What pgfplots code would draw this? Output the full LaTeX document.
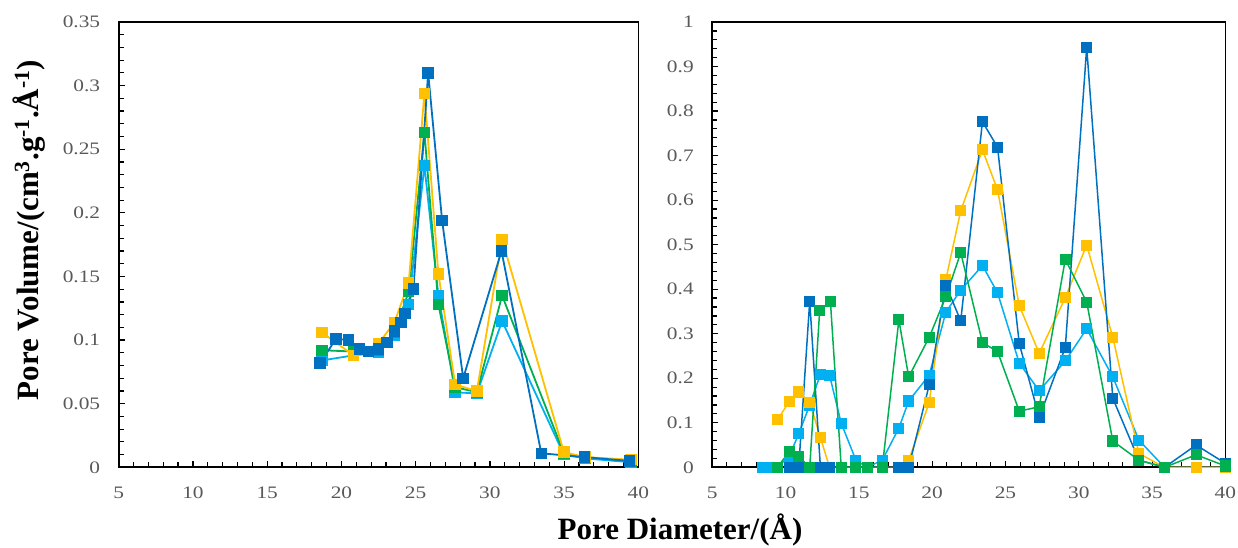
\documentclass[border=0pt]{standalone}
\usepackage{pgfplots}
\pgfplotsset{compat=1.18}
\usepackage{fontspec}
\setmainfont{Liberation Serif}
\newfontfamily\tickfont[FakeStretch=1.22]{Liberation Serif}
\definecolor{cY}{HTML}{FFC000}
\definecolor{cG}{HTML}{00B050}
\definecolor{cL}{HTML}{00B0F0}
\definecolor{cD}{HTML}{0070C0}
\definecolor{tickgray}{HTML}{595959}
\pgfplotsset{
 myaxis/.style={
  scale only axis, height=445.3pt,
  xmin=5,xmax=40, ymin=0,
  xtick={5,10,15,20,25,30,35,40}, minor x tick num=4, minor y tick num=4,
  tick pos=left, tick align=inside,
  major tick length=6pt, minor tick length=5pt,
  every tick/.style={black, line width=1.2pt},
  axis line style={line width=1.8pt},
  tick label style={font=\tickfont\fontsize{17.5}{17.5}\selectfont, text=tickgray},
  /pgf/number format/assume math mode=true,
  yticklabel style={/pgf/number format/fixed, /pgf/number format/precision=2, xshift=-15pt},
  xticklabel style={yshift=-16.5pt},
  every axis plot/.append style={mark=square*, mark options={solid}},
 }
}
\begin{document}
\begin{tikzpicture}[x=1pt,y=1pt]
\path[use as bounding box] (-118.7,-79.7) rectangle (1119.3,467.3);
\begin{axis}[myaxis, width=519.7pt, at={(0pt,0pt)}, anchor=south west, ymax=0.35,
  ytick={0,0.05,0.1,0.15,0.2,0.25,0.3,0.35},
  every axis plot/.append style={line width=1.8pt, mark size=4.8pt}]
\addplot[color=cL, mark options={fill=cL}] coordinates {(18.69,0.084) (20.82,0.088) (22.49,0.090) (23.57,0.104) (24.53,0.128) (25.59,0.237) (26.53,0.135) (27.66,0.059) (29.12,0.058) (30.82,0.115) (34.98,0.010) (36.4,0.007) (39.5,0.004)};
\addplot[color=cG, mark options={fill=cG}] coordinates {(18.69,0.092) (20.82,0.091) (22.49,0.092) (23.57,0.106) (24.53,0.138) (25.59,0.263) (26.53,0.128) (27.66,0.063) (29.12,0.059) (30.82,0.135) (34.98,0.011) (36.4,0.008) (39.5,0.005)};
\addplot[color=cY, mark options={fill=cY}] coordinates {(18.69,0.106) (20.82,0.088) (22.49,0.097) (23.57,0.114) (24.53,0.145) (25.59,0.294) (26.53,0.152) (27.66,0.065) (29.12,0.060) (30.82,0.179) (34.98,0.012) (36.4,0.008) (39.5,0.006)};
\addplot[color=cD, mark options={fill=cD}] coordinates {(18.57,0.082) (19.63,0.101) (20.49,0.100) (21.2,0.093) (21.84,0.091) (22.49,0.093) (23.07,0.098) (23.56,0.107) (24.0,0.114) (24.28,0.121) (24.85,0.140) (25.84,0.310) (26.78,0.194) (28.2,0.070) (30.78,0.170) (33.46,0.011) (36.38,0.008) (39.4,0.005)};
\end{axis}
\begin{axis}[myaxis, width=513.2pt, at={(593.5pt,0pt)}, anchor=south west, ymax=1,
  ytick={0,0.1,0.2,0.3,0.4,0.5,0.6,0.7,0.8,0.9,1},
  every axis plot/.append style={line width=1.5pt, mark size=4.8pt}]
\addplot[color=cL, mark options={fill=cL}] coordinates {(8.4,0) (8.9,0) (9.45,0) (10.25,0.025) (10.9,0.075) (11.65,0.14) (12.38,0.209) (13.0,0.207) (13.8,0.099) (14.8,0.016) (15.57,0) (16.6,0.016) (17.73,0.088) (18.4,0.149) (19.8,0.207) (20.93,0.348) (21.95,0.398) (23.43,0.453) (24.46,0.392) (25.94,0.234) (27.3,0.172) (29.08,0.239) (30.54,0.311) (32.32,0.203) (34.1,0.061) (35.85,0) (38.0,0) (40.0,0)};
\addplot[color=cY, mark options={fill=cY}] coordinates {(9.45,0.107) (10.25,0.147) (10.9,0.169) (11.65,0.146) (12.38,0.067) (13.0,0) (13.8,0) (14.8,0) (15.57,0) (16.6,0) (17.73,0) (18.4,0.016) (19.8,0.145) (20.93,0.421) (21.95,0.576) (23.43,0.713) (24.46,0.623) (25.94,0.363) (27.3,0.256) (29.08,0.381) (30.54,0.499) (32.32,0.292) (34.1,0.031) (35.85,0) (38.0,0) (40.0,0)};
\addplot[color=cD, mark options={fill=cD}] coordinates {(10.25,0) (10.9,0) (11.65,0.373) (12.38,0) (13.0,0) (13.8,0) (14.8,0) (15.57,0) (16.6,0) (17.73,0) (18.4,0) (19.8,0.185) (20.93,0.409) (21.95,0.329) (23.43,0.776) (24.46,0.719) (25.94,0.278) (27.3,0.112) (29.08,0.269) (30.54,0.943) (32.32,0.155) (34.1,0.016) (35.85,0) (38.0,0.050) (40.0,0.009)};
\addplot[color=cG, mark options={fill=cG}] coordinates {(9.45,0) (10.25,0.035) (10.9,0.024) (11.65,0) (12.33,0.352) (13.06,0.373) (13.8,0) (14.8,0) (15.57,0) (16.6,0) (17.73,0.331) (18.4,0.203) (19.8,0.292) (20.93,0.383) (21.95,0.482) (23.43,0.280) (24.46,0.260) (25.94,0.126) (27.3,0.136) (29.08,0.467) (30.54,0.371) (32.32,0.059) (34.1,0.016) (35.85,0) (38.0,0.028) (40.0,0.003)};
\end{axis}
\node[font=\fontsize{31}{31}\selectfont\bfseries] at (561.3,-62.7) {Pore Diameter/(Å)};
\node[rotate=90, font=\fontsize{31}{31}\selectfont\bfseries] at (-90,237.3) {Pore Volume/(cm\textsuperscript{3}.g\textsuperscript{-1}.Å\textsuperscript{-1})};
\end{tikzpicture}
\end{document}
